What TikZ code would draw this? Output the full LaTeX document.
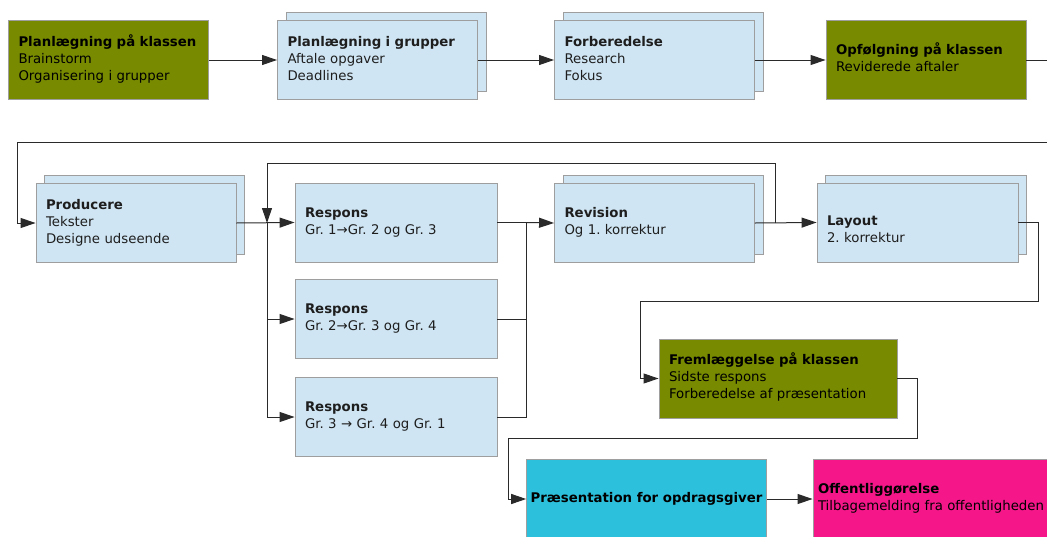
\documentclass[tikz,border=0pt]{standalone}
\usepackage{fontspec}
\setmainfont{DejaVu Sans}
\usetikzlibrary{arrows.meta}
\definecolor{olive}{HTML}{778A00}
\definecolor{lblue}{HTML}{CFE5F3}
\definecolor{boxline}{HTML}{9E9E9E}
\definecolor{cyanbox}{HTML}{2CC0DC}
\definecolor{magbox}{HTML}{F5168A}
\definecolor{txt}{HTML}{1E1E1E}
\definecolor{lnc}{HTML}{2A2A2A}
\frenchspacing
\tikzset{
  base/.style={draw=boxline, line width=0.9pt, inner xsep=10pt, inner ysep=0pt,
    align=left, font=\fontsize{13.3}{17}\selectfont\frenchspacing, text=txt,
    minimum height=79pt},
  bluebox/.style={base, fill=lblue, text width=180pt},
  olivebox/.style={base, fill=olive, text=black, text width=180pt},
  conn/.style={draw=lnc, line width=1pt},
  arr/.style={conn, -{Triangle[length=15pt,width=10pt]}},
}
\begin{document}
\begin{tikzpicture}[x=1pt,y=-1pt]
\useasboundingbox (0,0) rectangle (1047,536);
\clip (0,0) rectangle (1047,536);
% back sheets
\node[bluebox] (b2s) at (386,52) {};
\node[bluebox] (b3s) at (663,52) {};
\node[bluebox] (prods) at (144,215) {};
\node[bluebox] (revs) at (663,215) {};
\node[bluebox, text width=181pt] (lays) at (926,214.5) {};
% row 1
\node[olivebox] (b1) at (108.5,60) {\strut\textbf{Planlægning på klassen}\\Brainstorm\\Organisering i grupper\strut};
\node[bluebox] (b2) at (377.5,60) {\strut\textbf{Planlægning i grupper}\\Aftale opgaver\\Deadlines\strut};
\node[bluebox] (b3) at (654.5,60) {\strut\textbf{Forberedelse}\\Research\\Fokus\strut};
\node[olivebox] (b4) at (926,60) {\strut\textbf{Opfølgning på klassen}\\Reviderede aftaler\strut};
% row 2
\node[bluebox] (prod) at (136,223) {\strut\textbf{Producere}\\Tekster\\Designe udseende\strut};
\node[bluebox, text width=182pt] (r1) at (396,222.5) {\strut\textbf{Respons}\\Gr. 1→Gr. 2 og Gr. 3\strut};
\node[bluebox, text width=182pt] (r2) at (396,319) {\strut\textbf{Respons}\\Gr. 2→Gr. 3 og Gr. 4\strut};
\node[bluebox, text width=182pt] (r3) at (396,417) {\strut\textbf{Respons}\\Gr. 3 → Gr. 4 og Gr. 1\strut};
\node[bluebox] (rev) at (654.5,223) {\strut\textbf{Revision}\\Og 1. korrektur\strut};
\node[bluebox, text width=181pt] (lay) at (917.5,222.5) {\strut\\\textbf{Layout}\\2. korrektur\strut};
% lower
\node[olivebox, text width=218pt] (frem) at (778,378.5) {\strut\textbf{Fremlæggelse på klassen}\\Sidste respons\\Forberedelse af præsentation\strut};
\node[base, fill=cyanbox, text=black, minimum width=239pt, minimum height=80pt, inner xsep=4pt] (pres) at (646.5,499) {\textbf{Præsentation for opdragsgiver}};
\node[base, fill=magbox, text=black, text width=229pt, inner xsep=5pt, minimum height=80pt] (off) at (932.5,499) {\strut\textbf{Offentliggørelse}\\Tilbagemelding fra offentligheden\strut};
% coordinates
\coordinate (t1) at (1060,60);
\coordinate (t2) at (1060,142);
\coordinate (t3) at (17,142);
\coordinate (fbA) at (775,223);
\coordinate (fbB) at (775,163);
\coordinate (fbC) at (267,163);
\coordinate (jn) at (267,223);
\coordinate (mg) at (526,222.5);
\coordinate (l1) at (1038,222.5);
\coordinate (l2) at (1038,301);
\coordinate (l3) at (640,301);
\coordinate (f1) at (917,378.5);
\coordinate (f2) at (917,438);
\coordinate (f3) at (508,438);
% connectors
\draw[arr] (b1.east) -- (b2.west);
\draw[arr] (b2.east) -- (b3.west);
\draw[arr] (b3.east) -- (b4.west);
\draw[arr] (b4.east) -- (t1) -- (t2) -- (t3) |- (prod.west);
\draw[arr] (prod.east) -- (r1.west);
\draw[arr] (rev.east) -- (lay.west);
\draw[arr] (fbA) -- (fbB) -- (fbC) -- (jn);
\draw[arr] (jn) |- (r2.west);
\draw[arr] (jn) |- (r3.west);
\draw[conn] (r1.east) -- (mg);
\draw[conn] (r2.east) -| (mg);
\draw[conn] (r3.east) -| (mg);
\draw[arr] (mg) -- (rev.west);
\draw[arr] (lay.east) -- (l1) -- (l2) -- (l3) |- (frem.west);
\draw[arr] (frem.east) -- (f1) -- (f2) -- (f3) |- (pres.west);
\draw[arr] (pres.east) -- (off.west);
\end{tikzpicture}
\end{document}
